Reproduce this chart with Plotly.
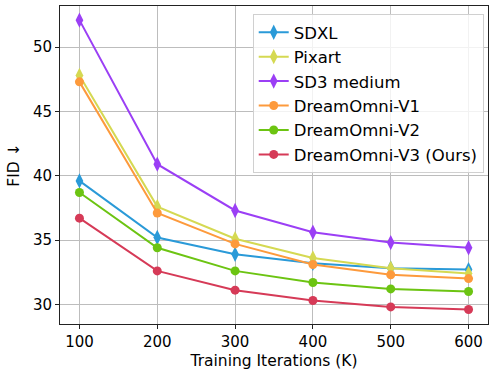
import plotly.graph_objects as go

iterations = [100, 200, 300, 400, 500, 600]

sdxl = [39.6, 35.2, 33.9, 33.2, 32.8, 32.7]
pixart = [47.8, 37.6, 35.1, 33.6, 32.8, 32.4]
sd3_medium = [52.1, 40.9, 37.3, 35.6, 34.8, 34.4]
dreamomni_v1 = [47.3, 37.1, 34.7, 33.1, 32.3, 32.0]
dreamomni_v2 = [38.7, 34.4, 32.6, 31.7, 31.2, 31.0]
dreamomni_v3 = [36.7, 32.6, 31.1, 30.3, 29.8, 29.6]

series = [
    ("SDXL", sdxl, "#2a9ad8", "diamond-tall"),
    ("Pixart", pixart, "#d5d952", "diamond-tall"),
    ("SD3 medium", sd3_medium, "#9b3ff5", "diamond-tall"),
    ("DreamOmni-V1", dreamomni_v1, "#fd9a3c", "circle"),
    ("DreamOmni-V2", dreamomni_v2, "#6cc412", "circle"),
    ("DreamOmni-V3 (Ours)", dreamomni_v3, "#d63a57", "circle"),
]

fig = go.Figure()
for name, vals, color, sym in series:
    fig.add_trace(go.Scatter(
        x=iterations, y=vals, name=name, mode="lines+markers",
        line=dict(color=color, width=2),
        marker=dict(symbol=sym, size=11 if sym != "circle" else 9, color=color),
    ))

font = "DejaVu Sans, sans-serif"
axis_common = dict(
    showgrid=True, gridcolor="#bdbdbd", gridwidth=1,
    showline=True, linecolor="#222222", linewidth=1, mirror=True,
    ticks="outside", ticklen=4, tickcolor="#222222",
    tickfont=dict(family=font, size=15, color="black"),
    zeroline=False,
)

fig.update_layout(
    width=499, height=372,
    margin=dict(l=60, r=11, t=5, b=47),
    paper_bgcolor="white", plot_bgcolor="white",
    font=dict(family=font, color="black"),
    xaxis=dict(range=[75, 625], tickvals=iterations,
               title=dict(text="Training Iterations (K)", font=dict(size=15.5), standoff=5),
               **axis_common),
    yaxis=dict(range=[28.47, 53.2], tickvals=[30, 35, 40, 45, 50],
               title=dict(text="FID ↓", font=dict(size=15.5), standoff=9),
               **axis_common),
    legend=dict(x=0.99, y=0.975, xanchor="right", yanchor="top",
                bgcolor="rgba(255,255,255,0.8)", bordercolor="#d0d0d0", borderwidth=1,
                font=dict(family=font, size=16.5), tracegroupgap=0,
                itemwidth=30),
    showlegend=True,
)

fig.write_html("out.html", config={"displayModeBar": False},
               post_script="document.body.style.margin='0px';")
